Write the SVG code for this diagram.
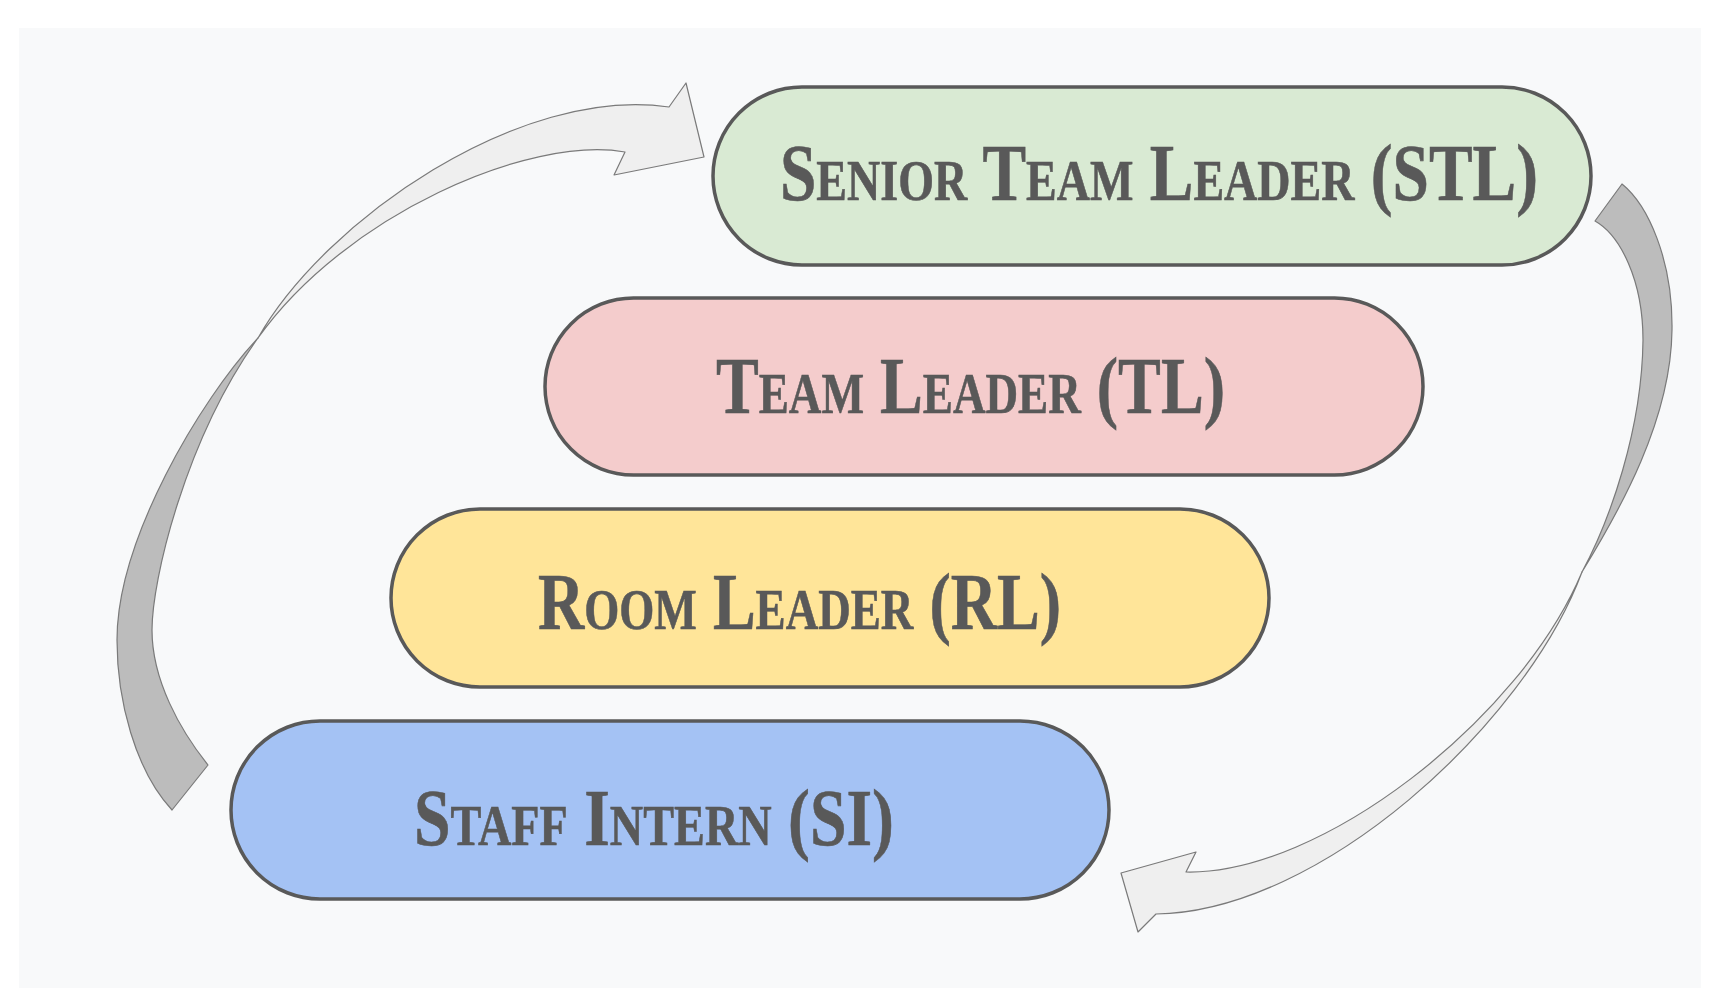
<svg xmlns="http://www.w3.org/2000/svg" width="1723" height="988" viewBox="0 0 1723 988">
  <style>
    .pill { stroke: #595959; stroke-width: 3.5; }
    .label { font-family: "Liberation Serif", "Times New Roman", serif; font-weight: bold; font-variant: small-caps; font-size: 81px; fill: #595959; stroke: #595959; stroke-width: 0.6; }
    .front { fill: #efefef; stroke: #7a7a7a; stroke-width: 1.2; stroke-linejoin: round; }
    .back { fill: #bcbcbc; stroke: #7a7a7a; stroke-width: 1.2; stroke-linejoin: round; }
  </style>

  <!-- canvas -->
  <rect x="0" y="0" width="1723" height="988" fill="#ffffff"/>
  <rect x="19" y="28" width="1682" height="960" fill="#f8f9fa"/>

  <!-- curved cycle arrows -->
  <g id="connectors">
    <!-- left arrow: Staff Intern up to Senior Team Leader -->
    <g id="arrow-up">
      <path class="back" d="M258,338 C200,400 117,540 117,640 C117,700 135,770 172,810 L208,765 C180,730 152,680 152,630 C152,580 185,440 258,338 Z"/>
      <path class="front" d="M258,338 C325,220 520,85 669,107 L686,83 L704,157 L614,175 L625,152 C530,135 345,215 258,338 Z"/>
    </g>
    <!-- right arrow: Senior Team Leader down to Staff Intern -->
    <g id="arrow-down">
      <path class="back" d="M1622,184 C1648,205 1673,260 1672,330 C1671,420 1620,510 1582,572 C1610,520 1642,430 1643,340 C1643,280 1620,235 1595,221 Z"/>
      <path class="front" d="M1582,572 C1520,720 1320,875 1186,872 L1196,852 L1121,873 L1138,932 L1156,914 C1320,912 1525,725 1582,572 Z"/>
    </g>
  </g>

  <!-- role levels -->
  <g id="node-stl">
    <rect class="pill" x="713" y="87" width="878" height="178" rx="89" fill="#d9ead3"/>
    <text class="label" x="780" y="200" textLength="758" lengthAdjust="spacingAndGlyphs">Senior Team Leader (STL)</text>
  </g>
  <g id="node-tl">
    <rect class="pill" x="545" y="298" width="878" height="177" rx="88.5" fill="#f4cccc"/>
    <text class="label" x="716" y="413" textLength="509" lengthAdjust="spacingAndGlyphs">Team Leader (TL)</text>
  </g>
  <g id="node-rl">
    <rect class="pill" x="391" y="509" width="878" height="178" rx="89" fill="#ffe599"/>
    <text class="label" x="538" y="629" textLength="523" lengthAdjust="spacingAndGlyphs">Room Leader (RL)</text>
  </g>
  <g id="node-si">
    <rect class="pill" x="231" y="721" width="878" height="178" rx="89" fill="#a4c2f4"/>
    <text class="label" x="414" y="845" textLength="480" lengthAdjust="spacingAndGlyphs">Staff Intern (SI)</text>
  </g>
</svg>
